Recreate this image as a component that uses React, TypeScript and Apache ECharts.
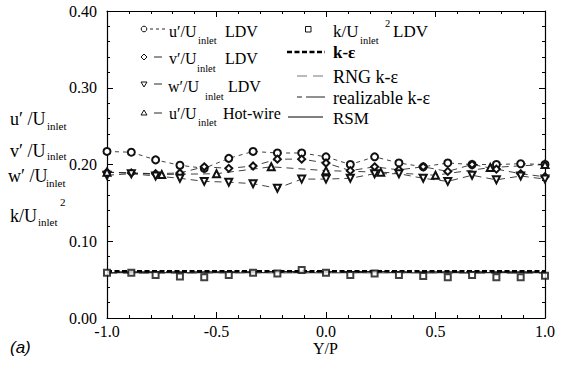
import React, { useEffect, useRef } from 'react';
import * as echarts from 'echarts';

// Y/P positions of the LDV measurement stations
const yPos = [-1, -0.889, -0.778, -0.667, -0.556, -0.444, -0.333, -0.222, -0.111, 0, 0.111, 0.222, 0.333, 0.444, 0.556, 0.667, 0.778, 0.889, 1];
const uLdv = [0.217, 0.216, 0.206, 0.199, 0.195, 0.208, 0.217, 0.215, 0.215, 0.21, 0.2, 0.21, 0.202, 0.197, 0.202, 0.2, 0.2, 0.201, 0.2];
const vLdv = [0.19, 0.189, 0.188, 0.189, 0.197, 0.195, 0.198, 0.207, 0.207, 0.202, 0.192, 0.197, 0.193, 0.197, 0.191, 0.2, 0.194, 0.188, 0.184];
const wLdv = [0.186, 0.188, 0.185, 0.182, 0.178, 0.177, 0.175, 0.169, 0.181, 0.181, 0.182, 0.188, 0.188, 0.182, 0.178, 0.186, 0.18, 0.185, 0.181];
const kLdv = [0.059, 0.059, 0.056, 0.054, 0.053, 0.056, 0.059, 0.058, 0.0625, 0.059, 0.056, 0.058, 0.056, 0.0547, 0.053, 0.056, 0.053, 0.053, 0.055];
// hot-wire stations
const hotX = [-1, -0.75, -0.5, -0.25, 0, 0.25, 0.5, 0.75, 1];
const uHot = [0.19, 0.187, 0.188, 0.197, 0.192, 0.19, 0.186, 0.196, 0.2];
// model predictions
const modelX = [-1, -0.75, -0.5, -0.25, 0, 0.25, 0.5, 0.75, 1];
const kEps = [0.061, 0.061, 0.061, 0.061, 0.061, 0.061, 0.061, 0.061, 0.061];
const rngKEps = [0.058, 0.058, 0.0585, 0.059, 0.059, 0.059, 0.0585, 0.058, 0.058];
const realKEps = [0.06, 0.06, 0.06, 0.0605, 0.0605, 0.0605, 0.06, 0.06, 0.06];
const rsm = [0.059, 0.059, 0.059, 0.059, 0.059, 0.059, 0.059, 0.059, 0.059];

const SERIF = 'Liberation Serif';
const INK = '#111';

const pair = (xs: number[], ys: number[]) => xs.map((x, i) => [x, ys[i]]);

const txt = (text: string, x: number, base: number, size: number, extra: any = {}) => ({
  type: 'text',
  x,
  y: base - 0.34 * size,
  silent: true,
  style: { text, fontSize: size, fontFamily: SERIF, fill: '#000', verticalAlign: 'middle', align: 'left', lineHeight: Math.round(size * 0.8), ...extra },
});

const seg = (x1: number, y: number, x2: number, style: any) => ({
  type: 'line',
  silent: true,
  shape: { x1, y1: y, x2, y2: y },
  style: { stroke: INK, lineWidth: 1, ...style },
});

export default function App() {
  const ref = useRef<HTMLDivElement>(null);
  useEffect(() => {
    if (!ref.current) return;
    const chart = echarts.init(ref.current, undefined, { renderer: 'svg' });
    const markerStyle = { color: INK, borderWidth: 1 };
    const axisCommon = {
      axisLine: { show: true, onZero: false, lineStyle: { color: '#000', width: 1.2 } },
      axisTick: { show: true, inside: true, length: 6, lineStyle: { color: '#000' } },
      minorTick: { show: true, splitNumber: 5, length: 3, lineStyle: { color: '#000' } },
      splitLine: { show: false },
      minorSplitLine: { show: false },
    };
    const legendGraphics: any[] = [
      // left column
      { type: 'circle', silent: true, shape: { cx: 144, cy: 29, r: 2.8 }, style: { fill: '#fff', stroke: INK, lineWidth: 1 } },
      seg(150, 29, 165, { lineDash: [3, 3], lineWidth: 0.9 }),
      txt('u′/U', 169, 37, 16), txt('inlet', 198, 44, 10.5), txt('LDV', 225, 37, 16),
      { type: 'polygon', silent: true, shape: { points: [[144, 54], [147, 57], [144, 60], [141, 57]] }, style: { fill: '#fff', stroke: INK, lineWidth: 1 } },
      seg(154, 57, 162, { lineWidth: 0.9 }),
      txt('v′/U', 169, 64, 16), txt('inlet', 197, 72, 10.5), txt('LDV', 225, 64, 16),
      { type: 'polygon', silent: true, shape: { points: [[141, 82], [147, 82], [144, 87]] }, style: { fill: '#fff', stroke: INK, lineWidth: 1 } },
      seg(154, 84, 162, { lineWidth: 0.9 }),
      txt('w′/U', 168, 92, 16), txt('inlet', 205, 100, 10.5), txt('LDV', 228, 92, 16),
      { type: 'polygon', silent: true, shape: { points: [[141, 115], [147, 115], [144, 110]] }, style: { fill: '#fff', stroke: INK, lineWidth: 1 } },
      seg(154, 113, 162, { lineWidth: 0.9 }),
      txt('u′/U', 169, 119, 16), txt('inlet', 198, 126, 10.5), txt('Hot-wire', 223, 119, 16),
      // right column
      { type: 'rect', silent: true, shape: { x: 305.5, y: 26.5, width: 5.5, height: 5.5 }, style: { fill: '#fff', stroke: INK, lineWidth: 1 } },
      txt('k/U', 333, 37, 17), txt('inlet', 360, 44, 10.5), txt('2', 385, 27, 10.5), txt('LDV', 393, 37, 17),
      seg(287, 52, 325, { lineWidth: 2.4, lineDash: [5, 2.5], stroke: '#000' }),
      txt('k-ε', 333, 58, 17, { fontWeight: 'bold' }),
      seg(297, 76, 325, { lineWidth: 1, lineDash: [10, 6], stroke: '#777' }),
      txt('RNG k-ε', 333, 83, 18),
      seg(297, 97, 325, { lineWidth: 1.2, lineDash: [5, 4, 16, 0], stroke: '#222' }),
      txt('realizable k-ε', 333, 104, 18),
      seg(288, 117, 323, { lineWidth: 1, stroke: '#000' }),
      txt('RSM', 333, 124, 17),
      // y-axis title
      txt('u′ /U', 10, 125, 18), txt('inlet', 47, 130, 11),
      txt('v′ /U', 10, 157, 18), txt('inlet', 47, 160, 11),
      txt('w′ /U', 8, 182, 18), txt('inlet', 46, 187, 11),
      txt('k/U', 10, 222, 18), txt('inlet', 38, 226, 11), txt('2', 60, 206, 11),
      // x-axis title and panel label
      txt('Y/P', 313, 354, 16),
      {
        type: 'text', x: 10, y: 347, silent: true,
        style: { text: '(a)', fontSize: 17, fontFamily: 'Liberation Sans', fontStyle: 'italic', fill: '#000', verticalAlign: 'middle' },
      },
    ];
    chart.setOption({
      animation: false,
      backgroundColor: '#fff',
      grid: { left: 107, right: 19, top: 11, bottom: 48, containLabel: false },
      xAxis: [
        {
          type: 'value', min: -1, max: 1, interval: 0.5, position: 'bottom',
          ...axisCommon,
          axisLabel: { formatter: (v: number) => v.toFixed(1), fontSize: 16, lineHeight: 13, fontFamily: SERIF, color: '#000', margin: 7 },
        },
        {
          type: 'value', min: -1, max: 1, interval: 0.5, position: 'top',
          ...axisCommon,
          axisLabel: { show: false },
        },
      ],
      yAxis: [
        {
          type: 'value', min: 0, max: 0.4, interval: 0.1, position: 'left',
          ...axisCommon,
          axisLabel: { formatter: (v: number) => v.toFixed(2), fontSize: 16, fontFamily: SERIF, color: '#000', margin: 10 },
        },
        {
          type: 'value', min: 0, max: 0.4, interval: 0.1, position: 'right',
          ...axisCommon,
          axisLabel: { show: false },
        },
      ],
      series: [
        { type: 'line', name: 'RSM', data: pair(modelX, rsm), symbol: 'none', lineStyle: { color: '#000', width: 1 }, z: 1 },
        { type: 'line', name: 'realizable k-ε', data: pair(modelX, realKEps), symbol: 'none', lineStyle: { color: '#222', width: 1.2, type: [5, 4, 16, 0] }, z: 1 },
        { type: 'line', name: 'RNG k-ε', data: pair(modelX, rngKEps), symbol: 'none', lineStyle: { color: '#777', width: 1, type: [10, 6] }, z: 1 },
        { type: 'line', name: 'k-ε', data: pair(modelX, kEps), symbol: 'none', lineStyle: { color: '#000', width: 2.4, type: [5, 2.5] }, z: 2 },
        { type: 'scatter', name: 'k LDV', data: pair(yPos, kLdv), symbol: 'emptyRect', symbolSize: 6, itemStyle: markerStyle, z: 5 },
        { type: 'line', name: 'u LDV', data: pair(yPos, uLdv), symbol: 'emptyCircle', symbolSize: 7, lineStyle: { color: INK, width: 0.8, type: [4, 4] }, itemStyle: markerStyle, z: 5 },
        { type: 'line', name: 'v LDV', data: pair(yPos, vLdv), symbol: 'emptyDiamond', symbolSize: 7, lineStyle: { color: INK, width: 0.8, type: [7, 5] }, itemStyle: markerStyle, z: 5 },
        { type: 'line', name: 'w LDV', data: pair(yPos, wLdv), symbol: 'emptyTriangle', symbolRotate: 180, symbolSize: 7, lineStyle: { color: INK, width: 0.8, type: [7, 5] }, itemStyle: markerStyle, z: 5 },
        { type: 'line', name: 'u Hot-wire', data: pair(hotX, uHot), symbol: 'emptyTriangle', symbolSize: 7, lineStyle: { color: INK, width: 0.8, type: [7, 5] }, itemStyle: markerStyle, z: 5 },
      ],
      graphic: legendGraphics,
    });
    return () => chart.dispose();
  }, []);
  return <div ref={ref} style={{ width: 564, height: 366, position: 'absolute', left: 0, top: 0 }} />;
}
